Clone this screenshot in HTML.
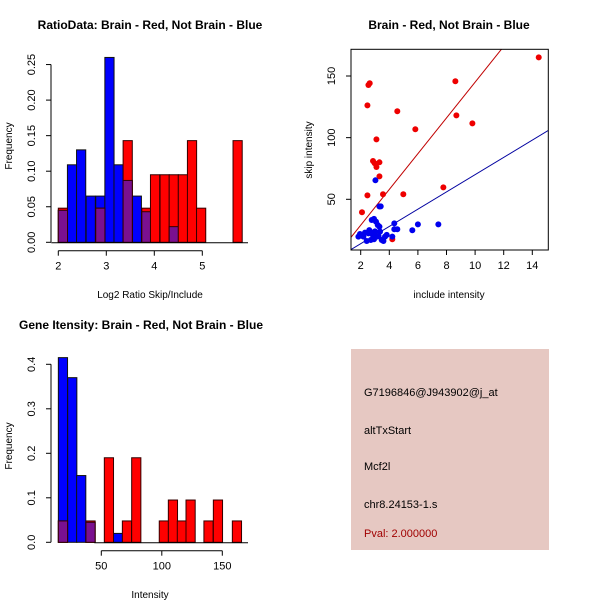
<!DOCTYPE html>
<html><head><meta charset="utf-8"><style>
html,body{margin:0;padding:0;background:#fff}
svg{display:block;font-family:"Liberation Sans",sans-serif}
</style></head><body>
<svg id="s" width="600" height="600" viewBox="0 0 600 600" xmlns="http://www.w3.org/2000/svg">
<rect width="600" height="600" fill="#fff"/>
<text x="150" y="29" font-size="12" font-weight="bold" text-anchor="middle">RatioData: Brain - Red, Not Brain - Blue</text>
<text x="449" y="29" font-size="12" font-weight="bold" text-anchor="middle">Brain - Red, Not Brain - Blue</text>
<text x="141" y="329" font-size="12" font-weight="bold" text-anchor="middle">Gene Itensity: Brain - Red, Not Brain - Blue</text>
<g id="p1"></g>
<g id="p2"></g>
<g id="p3"></g>
<g>
<rect x="351" y="349" width="198" height="201" fill="#e6c8c2"/>
<text x="364" y="396" font-size="11">G7196846@J943902@j_at</text>
<text x="364" y="434" font-size="11">altTxStart</text>
<text x="364" y="470" font-size="11">Mcf2l</text>
<text x="364" y="508" font-size="11">chr8.24153-1.s</text>
<text x="364" y="537" font-size="11" fill="#a00000">Pval: 2.000000</text>
</g>
</svg>
<script>
// ---- Plot 1 data: ratio histogram ----
const ratioBinWidth = 0.1917;
const ratioBlueStarts = [2.0, 2.19, 2.38, 2.58, 2.78, 2.97, 3.16, 3.35, 3.54, 3.74, 4.31];
const ratioBlueFreq = [0.045, 0.109, 0.13, 0.065, 0.065, 0.26, 0.109, 0.087, 0.065, 0.043, 0.022];
const ratioRedStarts = [2.0, 2.78, 3.35, 3.74, 3.92, 4.12, 4.31, 4.5, 4.69, 4.88, 5.64];
const ratioRedFreq = [0.048, 0.048, 0.143, 0.048, 0.095, 0.095, 0.095, 0.095, 0.143, 0.048, 0.143];
const ratioXTicks = [2, 3, 4, 5];
const ratioYTicks = [0, 0.05, 0.10, 0.15, 0.20, 0.25];
const ratioYLabels = ["0.00","0.05","0.10","0.15","0.20","0.25"];
// ---- Plot 2 data: scatter ----
const redInclude = [2.09,2.47,2.47,2.54,2.63,2.86,2.98,3.10,3.10,3.31,3.31,3.56,4.56,4.98,5.82,7.78,8.62,8.69,9.81,14.45,4.21,3.31];
const redSkip = [39.5,53.2,126.2,142.7,144.1,81.1,79.2,98.6,76.2,80.0,68.6,54.1,121.4,54.1,106.8,59.7,145.7,118.1,111.6,165.1,17.6,44.3];
const blueInclude = [3.03,3.31,3.40,1.84,1.95,2.19,2.42,2.54,2.65,2.77,2.93,3.07,3.19,3.31,3.35,3.12,2.93,3.47,3.70,3.82,2.70,2.30,2.84,3.59,4.35,4.35,4.56,4.21,6.0,5.61,7.43,2.6,3.0,3.25];
const blueSkip = [65.4,44.3,44.3,19.7,21.9,19.7,16.2,22.4,23.8,33.2,34.1,31.9,29.2,27.8,23.8,19.7,17.6,17.0,19.7,21.1,17.0,23.0,21.1,16.2,30.5,25.7,25.7,19.7,29.7,24.9,29.7,25,24,20];
const redSlope = 14.5, blueSlope = 7.0;
const scatterXTicks = [2,4,6,8,10,12,14];
const scatterYTicks = [50,100,150];
// ---- Plot 3 data: intensity histogram ----
const intBinWidth = 7.6;
const intBlueStarts = [14.5, 22.2, 29.6, 37.3, 59.9];
const intBlueFreq = [0.415, 0.37, 0.15, 0.045, 0.02];
const intRedStarts = [14.5, 37.3, 52.5, 67.4, 75.1, 97.9, 105.4, 112.8, 120.0, 134.8, 142.6, 158.3];
const intRedFreq = [0.048, 0.048, 0.19, 0.048, 0.19, 0.048, 0.095, 0.048, 0.095, 0.048, 0.095, 0.048];
const intXTicks = [50, 100, 150];
const intYTicks = [0, 0.1, 0.2, 0.3, 0.4];
const intYLabels = ["0.0","0.1","0.2","0.3","0.4"];

const NS = "http://www.w3.org/2000/svg";
function mk(parent, tag, attrs){const e=document.createElementNS(NS,tag);for(const k in attrs)e.setAttribute(k,attrs[k]);parent.appendChild(e);return e;}

function histogram(g, o){
  const sx=v=>o.x0px+(v-o.x0)*o.pxPerX, sy=v=>o.y0px-v*o.pxPerY;
  const bw=o.bw*o.pxPerX;
  const idx=v=>Math.round((v-o.x0)/o.bw);
  o.bs.forEach((s,i)=>{const r=mk(g,'rect',{x:sx(s),y:sy(o.bf[i]),width:bw,height:o.bf[i]*o.pxPerY,fill:'#0000ff',stroke:'#111','stroke-width':1});
    
    });
  o.rs.forEach((s,i)=>{const r=mk(g,'rect',{x:sx(s),y:sy(o.rf[i]),width:bw,height:o.rf[i]*o.pxPerY,fill:'#ff0000',stroke:'#300','stroke-width':1});
    
    
    const j=o.bs.findIndex(b=>idx(b)===idx(s));
    if(j>=0){const h=Math.min(o.bf[j],o.rf[i]);const p=mk(g,'rect',{x:sx(s),y:sy(h),width:bw,height:h*o.pxPerY,fill:'#7a1090',stroke:'#300','stroke-width':1});
      
      }});
  mk(g,'line',{x1:o.x0px-7,x2:o.baseEnd,y1:o.y0px+0.5,y2:o.y0px+0.5,stroke:'#000'});
  const ya=mk(g,'g',{});
  
  
  mk(ya,'line',{x1:o.yAxisX,x2:o.yAxisX,y1:sy(o.yt[0]),y2:sy(o.yt[o.yt.length-1]),stroke:'#000'});
  o.yt.forEach((t,i)=>{const y=sy(t);mk(ya,'line',{x1:o.yAxisX-5,x2:o.yAxisX,y1:y,y2:y,stroke:'#000'});
    const tx=mk(ya,'text',{x:0,y:0,'font-size':11,'text-anchor':'middle',transform:`translate(${o.yAxisX-16},${y}) rotate(-90)`});tx.textContent=o.yl[i];
    
    });
  const xa=mk(g,'g',{});
  
  
  const ay=o.xAxisY;
  mk(xa,'line',{x1:sx(o.xt[0]),x2:sx(o.xt[o.xt.length-1]),y1:ay,y2:ay,stroke:'#000'});
  o.xt.forEach(t=>{const x=sx(t);mk(xa,'line',{x1:x,x2:x,y1:ay,y2:ay+5,stroke:'#000'});
    const tx=mk(xa,'text',{x:x,y:ay+19,'font-size':11,'text-anchor':'middle'});tx.textContent=t;
    
    });
  const xt=mk(g,'text',{x:o.xTitleX,y:o.xTitleY,'font-size':10,'text-anchor':'middle'});xt.textContent=o.xTitle;
  
  
  const yt=mk(g,'text',{x:0,y:0,'font-size':10,'text-anchor':'middle',transform:`translate(12,${o.yTitleY}) rotate(-90)`});yt.textContent='Frequency';
  
  
}

histogram(document.getElementById('p1'),{x0:2,x0px:58.3,pxPerX:48,y0px:242.3,pxPerY:711,bw:ratioBinWidth,
  bs:ratioBlueStarts,bf:ratioBlueFreq,rs:ratioRedStarts,rf:ratioRedFreq,baseEnd:248,yAxisX:51,
  yt:ratioYTicks,yl:ratioYLabels,xt:ratioXTicks,xAxisY:250.7,xTitle:'Log2 Ratio Skip/Include',xTitleX:150,xTitleY:298,yTitleY:146});
histogram(document.getElementById('p3'),{x0:50,x0px:101.3,pxPerX:1.21,y0px:542.3,pxPerY:445,bw:intBinWidth,
  bs:intBlueStarts,bf:intBlueFreq,rs:intRedStarts,rf:intRedFreq,baseEnd:248,yAxisX:51,
  yt:intYTicks,yl:intYLabels,xt:intXTicks,xAxisY:550.7,xTitle:'Intensity',xTitleX:150,xTitleY:598,yTitleY:446});

(function(){
  const g=document.getElementById('p2');
  const L=351,R=548.3,T=49.3,B=250;
  const sx=v=>360.7+(v-2)*14.3, sy=v=>199.3-(v-50)*1.233;
  const clip=mk(g,'clipPath',{id:'c2'});mk(clip,'rect',{x:L,y:T,width:R-L,height:B-T});
  const lg=mk(g,'g',{'clip-path':'url(#c2)'});
  const x1=1,x2=16;
  const rl=mk(lg,'line',{x1:sx(x1),y1:sy(redSlope*x1),x2:sx(x2),y2:sy(redSlope*x2),stroke:'#c00000'});
  
  
  const bl=mk(lg,'line',{x1:sx(x1),y1:sy(blueSlope*x1),x2:sx(x2),y2:sy(blueSlope*x2),stroke:'#0000a0'});
  
  
  redInclude.forEach((v,i)=>{const c=mk(lg,'circle',{cx:sx(v),cy:sy(redSkip[i]),r:3,fill:'#ee0000'});
    
    });
  blueInclude.forEach((v,i)=>{const c=mk(lg,'circle',{cx:sx(v),cy:sy(blueSkip[i]),r:3,fill:'#0000ee'});
    
    });
  const box=mk(g,'rect',{x:L,y:T,width:R-L,height:B-T,fill:'none',stroke:'#000'});
  
  
  scatterXTicks.forEach(t=>{const x=sx(t);mk(g,'line',{x1:x,x2:x,y1:B,y2:B+5,stroke:'#000'});
    const tx=mk(g,'text',{x:x,y:B+19,'font-size':11,'text-anchor':'middle'});tx.textContent=t;
    
    });
  scatterYTicks.forEach(t=>{const y=sy(t);mk(g,'line',{x1:L-5,x2:L,y1:y,y2:y,stroke:'#000'});
    const tx=mk(g,'text',{x:0,y:0,'font-size':11,'text-anchor':'middle',transform:`translate(${L-16},${y}) rotate(-90)`});tx.textContent=t;
    
    });
  const xt=mk(g,'text',{x:449,y:298,'font-size':10,'text-anchor':'middle'});xt.textContent='include intensity';
  
  
  const yt=mk(g,'text',{x:0,y:0,'font-size':10,'text-anchor':'middle',transform:'translate(312,150) rotate(-90)'});yt.textContent='skip intensity';
  
  
})();
</script>
</body></html>
